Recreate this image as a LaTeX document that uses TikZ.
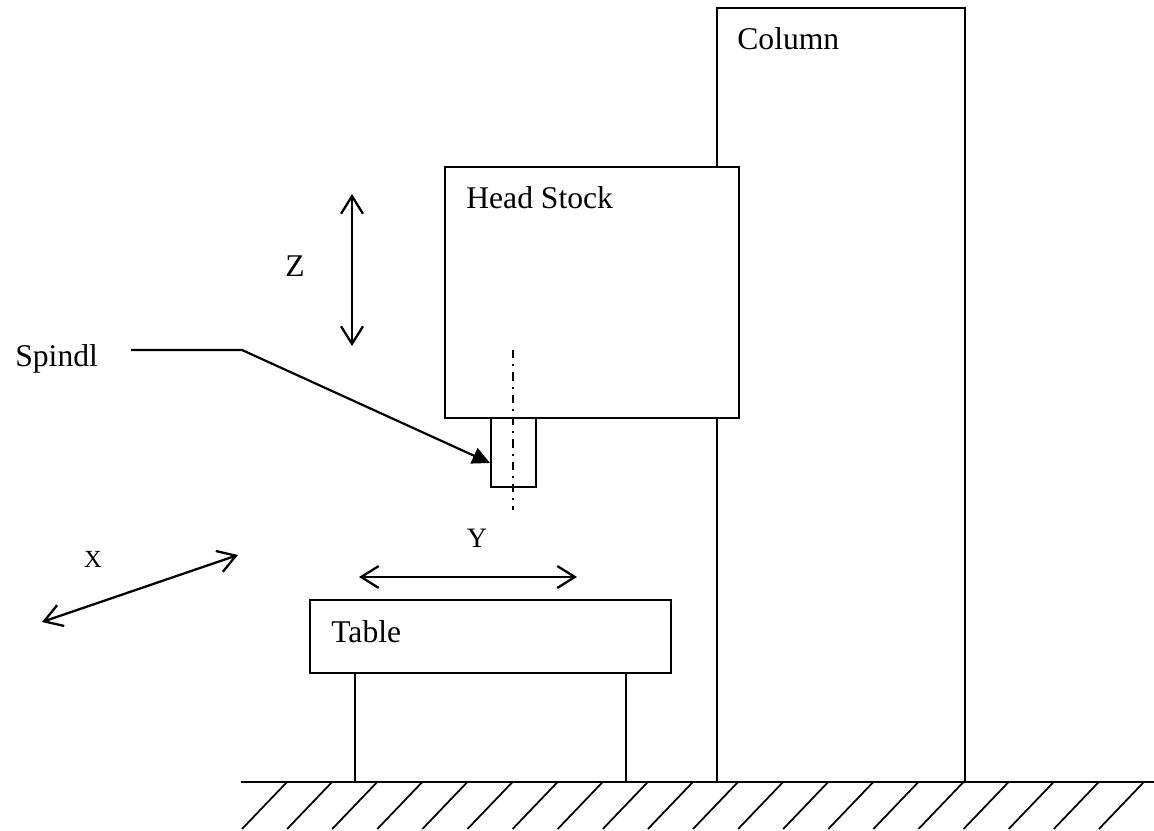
\documentclass[tikz,border=0pt]{standalone}
\usepackage{fontspec}
\setmainfont{Liberation Serif}
\usetikzlibrary{arrows.meta,positioning}
\tikzset{
  partline/.style={line width=1.05pt,draw=black},
  partlabel/.style={anchor=base west,inner sep=0pt,font=\fontsize{18}{20}\selectfont},
  axislabel/.style={anchor=base,inner sep=0pt,font=\fontsize{14}{16}\selectfont},
  axisarrow/.style={line width=1.3pt,{Straight Barb[length=10pt,width=12.5pt]}-{Straight Barb[length=10pt,width=12.5pt]}},
  centerline/.style={line width=1.1pt,dash pattern=on 4.8pt off 3.4pt on 1.1pt off 3.4pt}
}
\begin{document}
\begin{tikzpicture}[x=0.02cm,y=-0.02cm]
  \useasboundingbox (0,0) rectangle (1154,831);
  % Ground with hatching
  \coordinate (G1) at (241,782);
  \coordinate (G2) at (1154,782);
  \draw[partline] (G1)--(G2);
  \foreach \i in {0,...,19}
    \draw[line width=1pt] ({287+45.1*\i},782)--({242+45.1*\i},829);
  % Column, broken behind the head stock
  \draw[partline] (717,167)--(717,8)--(965,8)--(965,782);
  \draw[partline] (717,418)--(717,782);
  \draw[line width=1.4pt] (717,782)--(965,782);
  \node[partlabel] (column) at (737,50) {Column};
  % Head stock and spindle
  \coordinate (HS) at (445,167);
  \coordinate (HE) at (739,418);
  \draw[partline] (HS) rectangle (HE);
  \node[partlabel] (headstock) at (466,209) {Head Stock};
  \coordinate (S1) at (491,418);
  \coordinate (S2) at (536,487);
  \draw[partline] (S1) rectangle (S2);
  \draw[centerline] (513,350)--(513,510);
  % Spindle leader
  \node[partlabel] (spindl) at (15,367) {Spindl};
  \coordinate (L1) at (131,350);
  \coordinate (L2) at (242,350);
  \coordinate (L3) at (490,463);
  \draw[line width=1.25pt,-{Triangle[length=10pt,width=9.5pt]}] (L1)--(L2)--(L3);
  % Table on its two legs
  \coordinate (T1) at (310,600);
  \coordinate (T2) at (671,673);
  \draw[partline] (T1) rectangle (T2);
  \node[partlabel] (table) at (331,642) {Table};
  \draw[partline] (355,673)--(355,782);
  \draw[partline] (626,673)--(626,782);
  \draw[line width=1.4pt] (355,782)--(626,782);
  % Axes
  \node[partlabel] (zlabel) at (285,277) {Z};
  \coordinate (Z1) at (352,194);
  \coordinate (Z2) at (352,346);
  \draw[axisarrow] (Z1)--(Z2);
  \node[axislabel,font=\fontsize{16}{18}\selectfont] (ylabel) at (477,547) {Y};
  \coordinate (Y1) at (359,577);
  \coordinate (Y2) at (577,577);
  \draw[axisarrow] (Y1)--(Y2);
  \node[axislabel] (xlabel) at (93,567) {X};
  \coordinate (X1) at (42,622);
  \coordinate (X2) at (238,555);
  \draw[axisarrow] (X1)--(X2);
\end{tikzpicture}
\end{document}
